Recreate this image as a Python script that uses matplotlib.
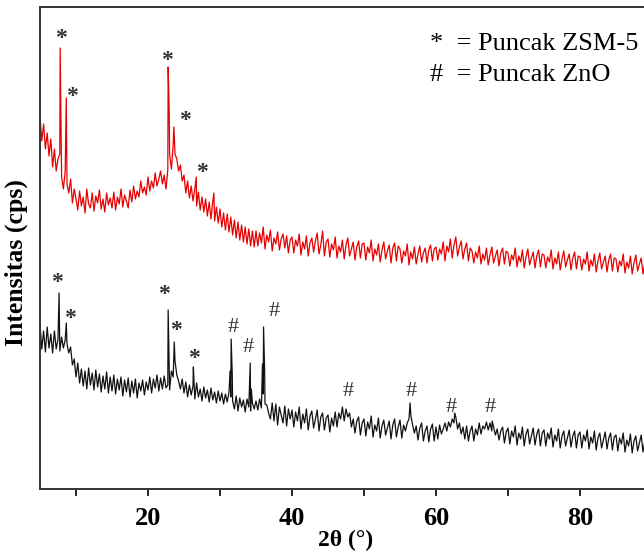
import matplotlib
matplotlib.use("Agg")
import matplotlib.pyplot as plt
import numpy as np

# scan grid of the diffractometer (0.25 deg steps, 5 - 89.75 deg), one row = 5 deg
scan_2theta = np.arange(5.0, 89.8, 0.25)

# upper pattern (red) - intensity, arbitrary units
red_scan = [
    372, 348, 365, 340, 356, 333, 350, 322, 340, 318, 330, 335, 312, 300, 318, 305, 296, 310, 286, 300,
    290, 279, 298, 283, 292, 276, 300, 285, 281, 296, 278, 293, 286, 299, 280, 290, 277, 296, 284, 291,
    281, 297, 279, 292, 285, 300, 282, 294, 288, 281, 299, 287, 303, 290, 298, 292, 308, 296, 302, 294,
    312, 298, 308, 301, 316, 303, 310, 318, 305, 314, 300, 319, 335, 320, 345, 335, 330, 318, 324, 308,
    314, 296, 308, 291, 303, 288, 300, 283, 297, 279, 292, 277, 290, 273, 287, 270, 288, 268, 282, 266,
    280, 262, 276, 259, 275, 257, 272, 254, 269, 251, 267, 249, 264, 247, 262, 245, 260, 243, 258, 242,
    258, 243, 256, 246, 262, 240, 254, 247, 259, 238, 251, 245, 257, 239, 250, 255, 241, 253, 236, 249,
    252, 236, 249, 243, 255, 234, 247, 240, 253, 233, 246, 251, 237, 248, 256, 235, 244, 258, 233, 247,
    250, 232, 245, 239, 252, 231, 243, 237, 249, 230, 244, 251, 233, 240, 247, 229, 242, 248, 231, 245,
    246, 229, 242, 236, 249, 228, 240, 234, 245, 227, 239, 247, 230, 238, 244, 226, 241, 246, 228, 243,
    240, 226, 238, 233, 245, 224, 237, 230, 242, 225, 235, 243, 227, 236, 241, 226, 239, 244, 228, 240,
    242, 229, 240, 235, 247, 228, 243, 237, 250, 231, 244, 252, 233, 242, 248, 230, 240, 246, 228, 241,
    238, 226, 237, 231, 243, 225, 235, 229, 241, 224, 234, 242, 226, 233, 239, 223, 236, 241, 225, 238,
    236, 223, 234, 229, 241, 222, 233, 227, 239, 221, 232, 240, 224, 231, 237, 221, 233, 239, 222, 235,
    234, 221, 232, 227, 239, 220, 231, 225, 237, 219, 230, 238, 222, 229, 235, 219, 231, 237, 220, 233,
    232, 219, 230, 225, 237, 218, 229, 223, 235, 217, 228, 236, 220, 227, 233, 217, 229, 235, 218, 231,
    230, 217, 228, 223, 235, 216, 227, 221, 233, 215, 226, 234, 218, 225, 231, 215, 227, 233, 216, 229,
]
red_peak_2theta = [7.8, 8.65, 22.8, 22.95, 23.6, 26.7, 29.15]
red_peak_int = [441, 391, 422, 375, 362, 312, 296]

# lower pattern (black)
black_scan = [
    165, 140, 158, 137, 162, 141, 155, 136, 158, 140, 150, 138, 152, 141, 149, 145, 136, 142, 124, 130,
    112, 126, 106, 120, 103, 118, 100, 121, 104, 116, 99, 119, 102, 115, 97, 113, 100, 117, 96, 112,
    98, 114, 95, 110, 99, 112, 93, 109, 97, 111, 92, 108, 96, 110, 91, 106, 98, 109, 94, 107,
    99, 112, 96, 110, 101, 114, 98, 111, 100, 113, 101, 104, 99, 118, 112, 128, 114, 108, 100, 110,
    96, 107, 92, 104, 94, 103, 90, 106, 92, 100, 88, 102, 91, 99, 87, 101, 89, 97, 86, 98,
    88, 96, 85, 95, 87, 97, 92, 88, 80, 93, 78, 91, 82, 89, 77, 90, 82, 78, 86, 80,
    88, 79, 90, 81, 95, 85, 84, 76, 70, 86, 68, 85, 64, 82, 74, 66, 83, 63, 80, 70,
    79, 62, 77, 68, 82, 60, 75, 66, 80, 59, 73, 78, 61, 70, 79, 58, 72, 76, 59, 71,
    74, 57, 71, 63, 77, 62, 76, 70, 82, 68, 80, 72, 76, 62, 70, 56, 68, 72, 54, 66,
    70, 53, 67, 60, 73, 52, 64, 58, 71, 51, 63, 69, 54, 61, 68, 50, 64, 70, 52, 62,
    69, 51, 64, 58, 66, 70, 74, 64, 56, 63, 49, 61, 66, 48, 58, 63, 47, 60, 65, 48,
    62, 50, 64, 55, 60, 66, 58, 67, 62, 70, 66, 72, 60, 66, 55, 62, 50, 63, 48, 58,
    63, 48, 60, 54, 66, 55, 63, 60, 67, 59, 66, 58, 62, 54, 60, 49, 58, 62, 46, 57,
    61, 45, 58, 52, 63, 44, 56, 50, 62, 43, 55, 60, 45, 53, 61, 44, 55, 60, 43, 56,
    59, 43, 56, 50, 61, 42, 54, 48, 60, 41, 53, 58, 43, 51, 59, 42, 53, 58, 41, 54,
    57, 41, 54, 48, 59, 40, 52, 46, 58, 39, 51, 56, 41, 49, 57, 40, 51, 56, 39, 52,
    54, 38, 51, 45, 56, 37, 49, 43, 55, 36, 48, 53, 38, 46, 54, 37, 48, 53, 36, 49,
]
black_peak_2theta = [7.65, 8.65, 22.8, 23.65, 26.3, 31.4, 31.55, 31.7,
                     34.1, 34.2, 34.35, 35.9, 36.05, 36.2, 56.4, 62.6, 67.8]
black_peak_int = [196, 166, 179, 147, 122, 118, 150, 115,
                  105, 126, 100, 125, 162, 118, 86, 76, 68]

# peak markers
red_star_x = [7.92, 9.44, 22.64, 25.14, 27.46]
red_star_y = [451, 392, 429, 369, 317]
black_star_x = [7.36, 9.12, 22.22, 23.85, 26.43]
black_star_y = [207, 171, 194, 158, 130]
zno_x = [31.85, 33.85, 37.54, 47.78, 56.53, 62.08, 67.5]
zno_y = [162, 141, 177, 97, 97, 82, 82]


def merge(scan, px, py):
    x = np.concatenate([scan_2theta, px])
    y = np.concatenate([scan, py])
    order = np.argsort(x)
    return x[order], y[order]


plt.rcParams["font.family"] = ["Liberation Serif", "DejaVu Serif"]

fig = plt.figure(figsize=(6.44, 5.55), dpi=100)
ax = fig.add_axes([40 / 644, 66 / 555, 612 / 644, 482 / 555])

rx, ry = merge(red_scan, red_peak_2theta, red_peak_int)
bx, by = merge(black_scan, black_peak_2theta, black_peak_int)
ax.plot(rx, ry, color="#e60000", linewidth=0.9)
ax.plot(bx, by, color="#111111", linewidth=0.9)

for x, y in zip(red_star_x + black_star_x, red_star_y + black_star_y):
    ax.text(x, y, "*", ha="center", va="center", fontsize=17,
            fontweight="bold", color="#333333")
for x, y in zip(zno_x, zno_y):
    ax.text(x, y, "#", ha="center", va="center", fontsize=16, color="#333333")

ax.text(59.2, 445, "*  = Puncak ZSM-5", ha="left", va="center", fontsize=19)
ax.text(59.2, 414, "#  = Puncak ZnO", ha="left", va="center", fontsize=19)

ax.set_xlim(5, 90)
ax.set_ylim(0, 482)
ax.set_xticks([20, 40, 60, 80])
ax.set_xticks([10, 30, 50, 70, 90], minor=True)
ax.set_yticks([])
ax.tick_params(axis="x", which="both", direction="out", length=5, width=1.2,
               pad=8, labelsize=19)
for lab in ax.get_xticklabels():
    lab.set_fontweight("bold")
for s in ax.spines.values():
    s.set_linewidth(1.4)
    s.set_color("#333333")

ax.set_xlabel("2θ (°)", fontsize=17, fontweight="bold", labelpad=0)
ax.set_ylabel("Intensitas (cps)", fontsize=18.5, fontweight="bold")
ax.yaxis.set_label_coords(-0.02, 0.47)

fig.savefig("out.png", dpi=100)
